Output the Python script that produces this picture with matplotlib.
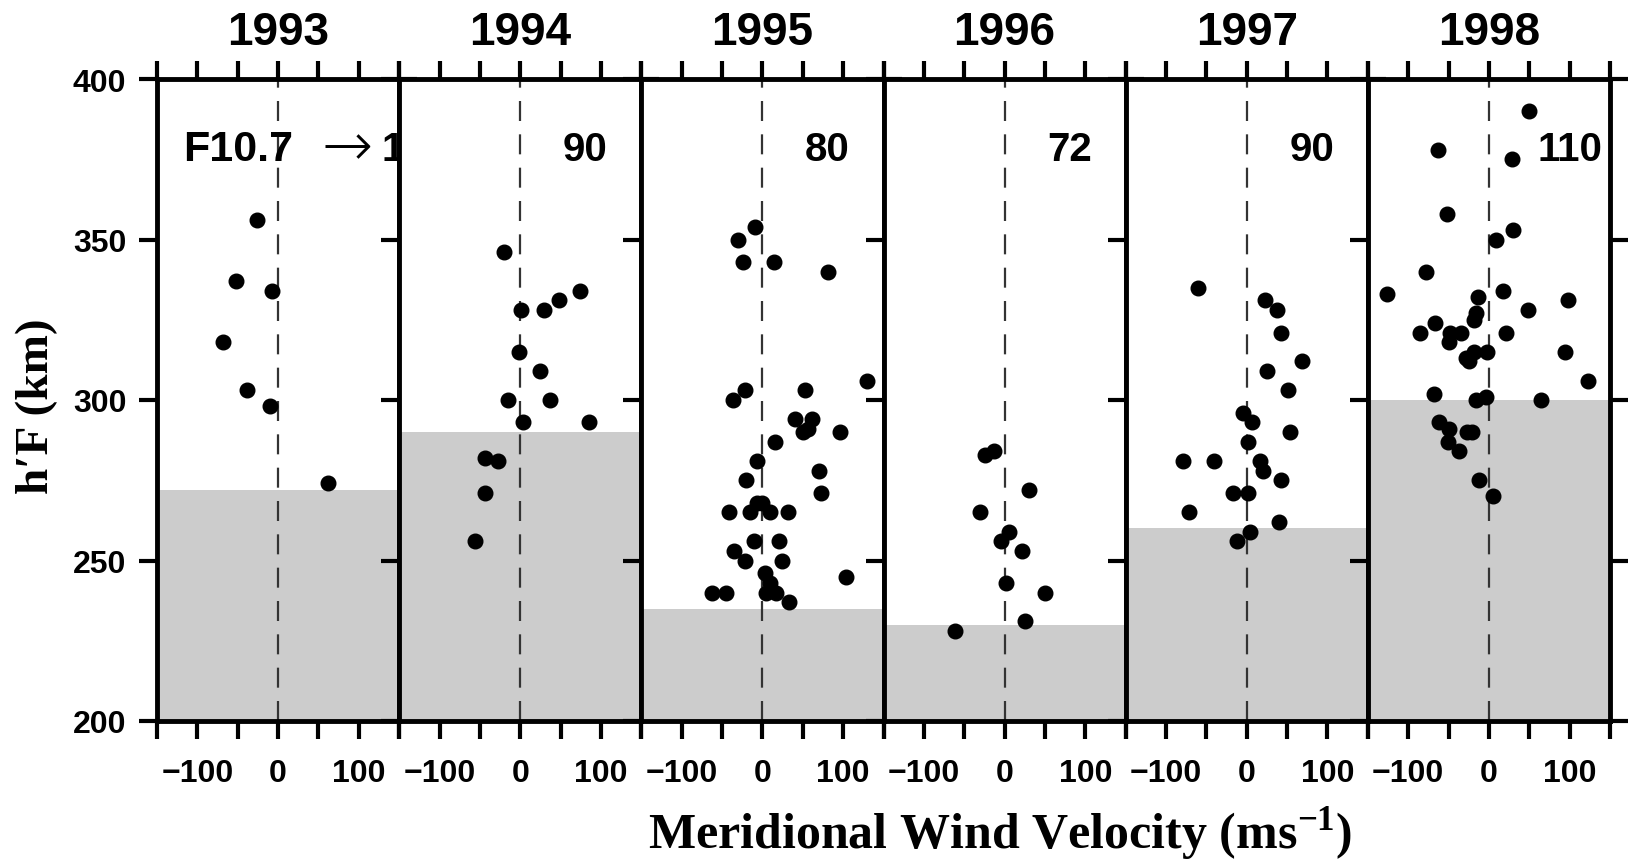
import matplotlib.pyplot as plt
from matplotlib.ticker import FixedLocator, NullFormatter
import numpy as np

plt.rcParams['font.family'] = ['Liberation Sans', 'DejaVu Sans']
plt.rcParams['mathtext.fontset'] = 'custom'
plt.rcParams['mathtext.rm'] = 'Liberation Serif:bold'
plt.rcParams['mathtext.bf'] = 'Liberation Serif:bold'

years = ['1993', '1994', '1995', '1996', '1997', '1998']
f107 = ['100', '90', '80', '72', '90', '110']
shade_top = [272, 290, 235, 230, 260, 300]

# meridional wind (m/s) and h'F (km) per year
v93 = [-26, -52, -8, -68, -38, -10, 62]
h93 = [356, 337, 334, 318, 303, 298, 274]

v94 = [-20, 74, 48, 30, 1, -2, 25, -15, 37, 3, 85, -44, -28, -44, -56]
h94 = [346, 334, 331, 328, 328, 315, 309, 300, 300, 293, 293, 282, 281, 271, 256]

v95 = [-9, -30, -24, 14, 81, 129, -22, 53, -37, 40, 62, 50, 56, 96, 16, -7, 70,
       -20, 72, -42, -16, -7, 0, 10, 32, -11, 20, -35, -21, 24, 104, 3, 9, -62,
       -45, 5, 17, 33]
h95 = [354, 350, 343, 343, 340, 306, 303, 303, 300, 294, 294, 290, 291, 290, 287,
       281, 278, 275, 271, 265, 265, 268, 268, 265, 265, 256, 256, 253, 250, 250,
       245, 246, 243, 240, 240, 240, 240, 237]

v96 = [-24, -13, 30, -30, 6, -4, 22, 2, 50, 25, -61]
h96 = [283, 284, 272, 265, 259, 256, 253, 243, 240, 231, 228]

v97 = [-60, 23, 37, 42, 69, 25, 51, -5, 6, 53, 1, -79, -40, 17, 20, 42, -17, 1,
       -71, 40, 4, -12]
h97 = [335, 331, 328, 321, 312, 309, 303, 296, 293, 290, 287, 281, 281, 281, 278,
       275, 271, 271, 265, 262, 259, 256]

v98 = [50, -63, 28, -52, 30, 9, -78, -126, 17, -14, 98, 48, -16, -18, -67, -86,
       -48, -35, 21, -50, 94, -2, -19, -25, -29, 123, -68, -16, -4, 64, -62, -50,
       -27, -21, -51, -37, -12, 5]
h98 = [390, 378, 375, 358, 353, 350, 340, 333, 334, 332, 331, 328, 327, 325, 324,
       321, 321, 321, 321, 318, 315, 315, 315, 312, 313, 306, 302, 300, 301, 300,
       293, 291, 290, 290, 287, 284, 275, 270]

winds = [v93, v94, v95, v96, v97, v98]
heights = [h93, h94, h95, h96, h97, h98]

fig = plt.figure(figsize=(16.34, 8.62), dpi=100)
W, H = 1634.0, 862.0
x0, pw = 157 / W, 242.17 / W
y0, ph = 140 / H, 642 / H

for i in range(6):
    ax = fig.add_axes([x0 + i * pw, y0, pw, ph])
    ax.set_xlim(-150, 150)
    ax.set_ylim(200, 400)
    ax.axhspan(200, shade_top[i], color='#cccccc', lw=0, zorder=0)
    ax.axvline(0, color='#333333', lw=1.6, ls=(0, (9, 6)), zorder=1)
    ax.plot(winds[i], heights[i], 'o', color='k', ms=10.5, zorder=3)

    ax.xaxis.set_major_locator(FixedLocator([-100, 0, 100]))
    ax.xaxis.set_minor_locator(FixedLocator([-150, -50, 50, 150]))
    ax.yaxis.set_major_locator(FixedLocator([200, 250, 300, 350, 400]))
    ax.yaxis.set_minor_formatter(NullFormatter())
    ax.tick_params(which='both', direction='out', length=13, width=3,
                   top=True, right=True, labelsize=23)
    ax.tick_params(axis='x', pad=14)
    ax.tick_params(axis='y', pad=9)
    for lab in ax.get_xticklabels() + ax.get_yticklabels():
        lab.set_fontweight('bold')
    if i > 0:
        ax.tick_params(labelleft=False)
    for s in ax.spines.values():
        s.set_linewidth(3.5)

    ax.text(0.5, 1.073, years[i], transform=ax.transAxes, ha='center',
            va='center', fontsize=33, fontweight='bold')
    if i == 0:
        # label runs past the panel edge and is cut off, as in the original
        ax.text(0.108, 0.874, 'F10.7', transform=ax.transAxes, ha='left',
                va='baseline', fontsize=31, fontweight='bold', clip_on=True)
        ax.text(0.68, 0.866, '\u2192', transform=ax.transAxes, ha='left',
                va='baseline', fontsize=44, family='DejaVu Sans',
                fontweight='light', clip_on=True)
        ax.text(0.929, 0.874, f107[i], transform=ax.transAxes, ha='left',
                va='baseline', fontsize=29, fontweight='bold', clip_on=True)
    else:
        xt = 0.70 if len(f107[i]) > 2 else 0.675
        ax.text(xt, 0.874, f107[i], transform=ax.transAxes, ha='left',
                va='baseline', fontsize=29, fontweight='bold')

fig.text(37 / W, 1 - 406 / H, 'h\u2032F (km)', rotation=90, ha='center',
         va='center', fontsize=34, fontweight='bold',
         family=['Liberation Serif', 'DejaVu Serif'])
fig.text(1000 / W, 1 - 834 / H, 'Meridional Wind Velocity (ms$^{\\mathrm{-1}}$)',
         ha='center', va='center', fontsize=36, fontweight='bold',
         family=['Liberation Serif', 'DejaVu Serif'])

fig.savefig('out.png', dpi=100)
